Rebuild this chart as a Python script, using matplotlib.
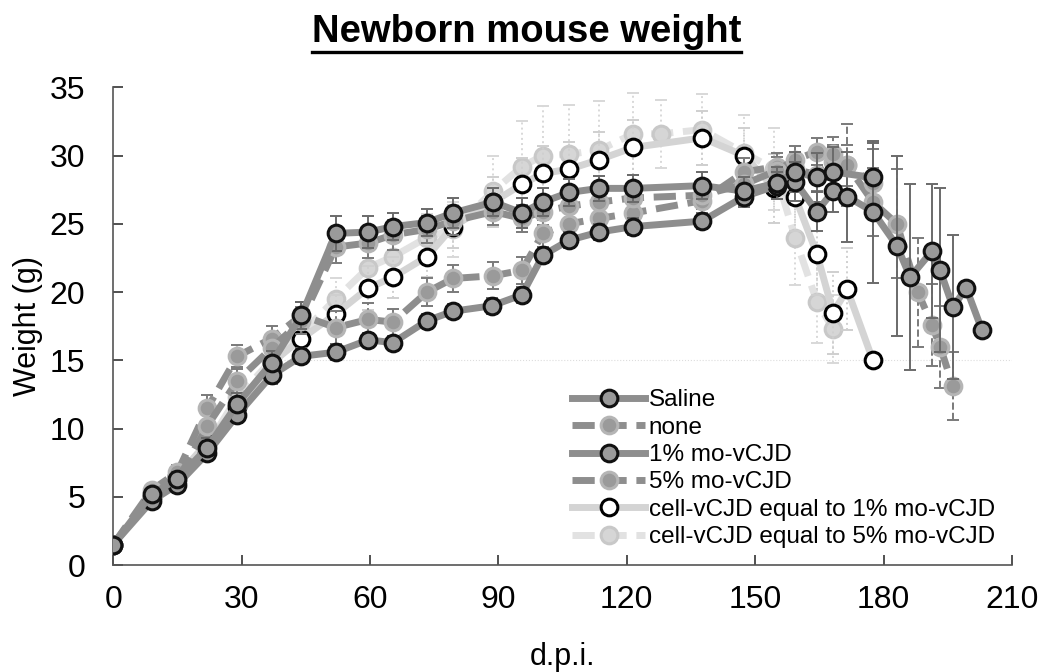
import matplotlib
matplotlib.use("Agg")
import matplotlib.pyplot as plt
from matplotlib.lines import Line2D

plt.rcParams['font.family'] = ['Liberation Sans', 'DejaVu Sans']

# days post inoculation / mean weight (g) / error (g)
saline_day = [0, 9, 15, 22, 29, 37, 44, 52, 59.6, 65.4, 73.3, 79.4, 88.8, 95.5, 100.4, 106.5, 113.5, 121.5, 137.6, 147.4, 155, 159.3, 164.4, 168.2, 177.5]
saline_w = [1.5, 5.2, 6.3, 8.6, 11.8, 14.8, 18.3, 24.3, 24.4, 24.8, 25.1, 25.8, 26.6, 25.8, 26.6, 27.3, 27.6, 27.6, 27.8, 27.4, 28.0, 28.8, 28.4, 28.8, 28.4]
saline_err = [0.2, 0.4, 0.5, 0.7, 0.8, 0.9, 1.0, 1.3, 1.2, 1.0, 1.0, 1.1, 1.0, 1.1, 1.0, 1.0, 0.9, 1.0, 1.0, 1.0, 1.2, 1.5, 1.8, 1.8, 2.5]

none_day = [0, 9, 15, 22, 29, 37, 44, 52, 59.6, 65.4, 73.3, 79.4, 88.8, 95.5, 100.4, 106.5, 113.5, 121.5, 137.6, 147.4, 155, 159.3, 164.4, 168.2, 171.5, 177.5]
none_w = [1.5, 5.0, 6.2, 10.2, 13.5, 15.9, 17.9, 23.3, 23.6, 24.2, 24.6, 25.2, 25.9, 25.4, 25.9, 26.3, 26.6, 26.9, 27.1, 27.9, 28.9, 29.7, 30.3, 30.1, 29.3, 28.0]
none_err = [0.2, 0.4, 0.5, 0.8, 0.9, 1.0, 1.0, 1.2, 1.1, 1.1, 1.0, 1.0, 1.0, 1.0, 1.0, 1.0, 1.0, 1.0, 1.0, 1.0, 1.0, 1.0, 1.0, 1.3, 1.5, 2.5]

mo1_day = [0, 9, 15, 22, 29, 37, 44, 52, 59.6, 65.4, 73.3, 79.4, 88.5, 95.5, 100.4, 106.5, 113.5, 121.5, 137.6, 147.4, 155, 159.3, 164.4, 168.2, 171.5, 177.5, 183.1, 186.2, 191.3, 193.2, 196.2, 199.3, 203]
mo1_w = [1.5, 4.7, 5.9, 8.2, 11.0, 13.9, 15.3, 15.6, 16.5, 16.3, 17.9, 18.6, 19.0, 19.8, 22.7, 23.8, 24.4, 24.8, 25.2, 27.0, 27.8, 28.1, 25.9, 27.4, 27.0, 25.9, 23.4, 21.1, 23.0, 21.6, 18.9, 20.3, 17.2]
mo1_err = [0.2, 0.3, 0.4, 0.5, 0.6, 0.6, 0.6, 0.6, 0.5, 0.5, 0.5, 0.5, 0.6, 0.6, 0.6, 0.6, 0.6, 0.6, 0.6, 0.8, 1.0, 1.4, 1.4, 1.5, 3.3, 5.2, 6.6, 6.8, 4.9, 6.0, 5.3, 0.0, 0.0]

mo5_day = [0, 9, 15, 22, 29, 37, 44, 52, 59.6, 65.4, 73.3, 79.4, 88.8, 95.5, 100.4, 106.5, 113.5, 121.5, 137.6, 147.4, 155, 159.3, 164.4, 168.2, 171.5, 177.5, 183.1, 188, 191.3, 193.2, 196.2]
mo5_w = [1.5, 5.5, 6.8, 11.5, 15.3, 16.6, 18.3, 17.4, 18.0, 17.8, 20.0, 21.0, 21.2, 21.6, 24.3, 25.0, 25.4, 25.8, 26.7, 28.8, 29.2, 29.0, 28.6, 29.5, 29.3, 26.6, 25.0, 20.0, 17.6, 16.0, 13.1]
mo5_err = [0.2, 0.4, 0.5, 1.0, 0.8, 0.9, 1.0, 1.2, 1.2, 1.0, 1.0, 1.0, 1.0, 1.0, 1.0, 1.0, 1.0, 1.0, 1.0, 1.0, 1.0, 1.2, 1.2, 1.3, 3.0, 2.5, 4.0, 4.0, 3.0, 3.0, 2.5]

cell1_day = [0, 9, 15, 22, 29, 37, 44, 52, 59.6, 65.4, 73.3, 79.4, 88.8, 95.5, 100.4, 106.5, 113.5, 121.5, 137.6, 147.4, 154.5, 159.3, 164.4, 168.2, 171.5, 177.5]
cell1_w = [1.5, 5.0, 6.5, 9.0, 11.6, 14.8, 16.6, 18.4, 20.3, 21.1, 22.6, 24.8, 26.6, 27.9, 28.7, 29.0, 29.7, 30.6, 31.3, 30.0, 27.6, 27.0, 22.8, 18.5, 20.2, 15.0]
cell1_err = [0.2, 0.4, 0.4, 0.8, 0.9, 1.0, 1.2, 1.4, 1.6, 1.5, 1.5, 1.6, 1.8, 1.9, 2.0, 2.0, 2.0, 2.0, 2.0, 2.0, 2.5, 2.5, 3.0, 3.0, 3.0, 0.0]

cell5_day = [0, 9, 15, 22, 29, 37, 44, 52, 59.6, 65.4, 73.3, 79.4, 88.8, 95.5, 100.4, 106.5, 113.5, 121.5, 128, 137.6, 147.4, 154.5, 159.3, 164.4, 168.2]
cell5_w = [1.5, 5.3, 6.2, 8.8, 12.3, 15.0, 17.0, 19.5, 21.8, 22.6, 24.0, 24.6, 27.4, 29.2, 30.0, 30.1, 30.4, 31.6, 31.6, 31.9, 30.2, 29.0, 24.0, 19.3, 17.3]
cell5_err = [0.2, 0.4, 0.5, 0.8, 1.0, 1.1, 1.3, 1.5, 1.6, 1.6, 1.7, 2.0, 2.6, 3.3, 3.6, 3.6, 3.6, 3.0, 2.5, 2.6, 2.8, 3.0, 3.5, 3.0, 2.5]

labels = ['Saline', 'none', '1% mo-vCJD', '5% mo-vCJD',
          'cell-vCJD equal to 1% mo-vCJD', 'cell-vCJD equal to 5% mo-vCJD']

fig = plt.figure(figsize=(10.38, 6.72), dpi=100)
ax = fig.add_axes([0.109, 0.159, 0.866, 0.711])

dark = '#8e8e8e'
mfill = '#9a9a9a'
light1 = '#d4d4d4'
light5 = '#e2e2e2'
dash = (0, (3.2, 1.4))

def series(x, y, e, lc, ls, mfc, mec, ecol, els, z, lab):
    eb = ax.errorbar(x, y, yerr=e, fmt='none', ecolor=ecol, elinewidth=1.4,
                     capsize=4, capthick=1.4, zorder=z)
    for c in eb[2]:
        c.set_linestyle(els)
    line, = ax.plot(x, y, color=lc, lw=5, ls=ls, marker='o', ms=12,
                    mfc=mfc, mec=mec, mew=2.2, zorder=z + 0.5, label=lab)
    return line

series(cell5_day, cell5_w, cell5_err, light5, dash, '#d6d6d6', '#c8c8c8', '#d8d8d8', ':', 2, labels[5])
series(cell1_day, cell1_w, cell1_err, light1, '-', 'white', 'black', '#cfcfcf', ':', 3, labels[4])
series(mo5_day, mo5_w, mo5_err, dark, dash, mfill, '#b5b5b5', '#7a7a7a', '--', 4, labels[3])
series(none_day, none_w, none_err, dark, dash, mfill, '#b5b5b5', '#7a7a7a', '--', 4, labels[1])
series(mo1_day, mo1_w, mo1_err, dark, '-', mfill, '#111111', '#6a6a6a', '-', 5, labels[2])
series(saline_day, saline_w, saline_err, dark, '-', mfill, '#111111', '#6a6a6a', '-', 5, labels[0])

ax.axhline(15, xmin=0.19, xmax=1.0, color='#dddddd', lw=0.8, ls=':', zorder=1)

ax.set_xlim(0, 210)
ax.set_ylim(0, 35)
ax.set_xticks(range(0, 211, 30))
ax.set_yticks(range(0, 36, 5))
ax.tick_params(direction='in', length=7, width=1.2, labelsize=23, colors='#333333')
ax.tick_params(axis='x', pad=14)
ax.tick_params(axis='y', pad=20)
for lab in ax.get_xticklabels() + ax.get_yticklabels():
    lab.set_color('black')
for s in ['top', 'right']:
    ax.spines[s].set_visible(False)
for s in ['left', 'bottom']:
    ax.spines[s].set_color('#555555')
    ax.spines[s].set_linewidth(1.2)

ax.set_xlabel('d.p.i.', fontsize=22, labelpad=20)
ax.set_ylabel('Weight (g)', fontsize=22)
ax.yaxis.set_label_coords(-0.078, 0.5)

handles, labs = ax.get_legend_handles_labels()
order = [labs.index(l) for l in labels]
leg = ax.legend([handles[i] for i in order], [labs[i] for i in order],
                loc='lower right', bbox_to_anchor=(1.0, 0.0), frameon=False,
                fontsize=17.5, handlelength=3.0, handletextpad=0.15,
                labelspacing=0.22, borderaxespad=0.3)

t = fig.text(0.507, 0.953, 'Newborn mouse weight', ha='center', va='center',
             fontsize=27.5, fontweight='bold')
fig.canvas.draw()
bb = t.get_window_extent().transformed(fig.transFigure.inverted())
fig.add_artist(Line2D([bb.x0, bb.x1], [bb.y0 - 0.004, bb.y0 - 0.004],
                      transform=fig.transFigure, color='black', lw=2.4))

fig.savefig('out.png', dpi=100)
